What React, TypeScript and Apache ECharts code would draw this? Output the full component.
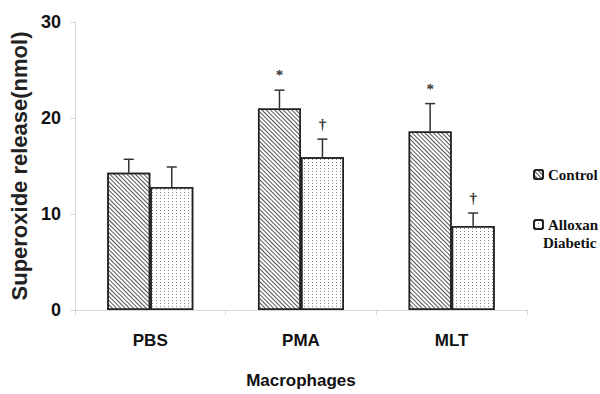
import React, { useEffect, useRef } from "react";
import * as echarts from "echarts";

const categories = ["PBS", "PMA", "MLT"];
const controlValues = [14.3, 21.0, 18.6];
const controlErrTop = [15.7, 22.9, 21.5];
const controlMarks = ["", "*", "*"];
const alloxanValues = [12.8, 15.9, 8.75];
const alloxanErrTop = [14.9, 17.8, 10.1];
const alloxanMarks = ["", "†", "†"];
const yTicks = [0, 10, 20, 30];

const BAR_W = 43;
const legendFont = "'Liberation Serif', serif";

function errorSeries(name: string, vals: number[], tops: number[], marks: string[], offset: number) {
  return {
    type: "custom",
    name: name + "-err",
    silent: true,
    z: 5,
    itemStyle: { color: "#444" },
    encode: { x: 0, y: 1 },
    data: categories.map((_, i) => [i, tops[i], vals[i]]),
    renderItem: (params: any, api: any) => {
      const i = params.dataIndex;
      const pTop = api.coord([api.value(0), api.value(1)]);
      const pBase = api.coord([api.value(0), api.value(2)]);
      const cx = pTop[0] + offset;
      const st = { stroke: "#333", lineWidth: 1.5 };
      const children: any[] = [
        { type: "line", shape: { x1: cx, y1: pBase[1], x2: cx, y2: pTop[1] }, style: st },
        { type: "line", shape: { x1: cx - 5, y1: pTop[1], x2: cx + 5, y2: pTop[1] }, style: st },
      ];
      if (marks[i]) {
        children.push({
          type: "text",
          x: cx,
          y: pTop[1] - 15,
          style: {
            text: marks[i],
            fill: "#333",
            fontFamily: legendFont,
            fontWeight: "bold",
            fontSize: 15,
            align: "center",
            verticalAlign: "middle",
          },
        });
      }
      return { type: "group", children };
    },
  };
}

export default function App() {
  const ref = useRef<HTMLDivElement>(null);
  useEffect(() => {
    if (!ref.current) return;
    const chart = echarts.init(ref.current, undefined, { renderer: "svg" });
    const axisFont = "'Liberation Sans', Arial, sans-serif";
    const legTxt = { fontFamily: legendFont, fontWeight: "bold", fontSize: 15, color: "#111" };
    chart.setOption({
      animation: false,
      backgroundColor: "#fff",
      grid: { left: 68, right: 73, top: 22, bottom: 84 },
      legend: [
        {
          data: ["Control"],
          left: 528,
          top: 162,
          itemWidth: 9,
          itemHeight: 9,
          textStyle: legTxt,
        },
        {
          data: ["Alloxan Diabetic"],
          left: 528,
          top: 212,
          itemWidth: 9,
          itemHeight: 9,
          formatter: () => "Alloxan",
          textStyle: legTxt,
        },
      ],
      graphic: [
        {
          type: "text",
          left: 543,
          top: 235,
          style: { text: "Diabetic", fill: "#111", fontFamily: legendFont, fontWeight: "bold", fontSize: 15 },
        },
      ],
      xAxis: {
        type: "category",
        data: categories,
        axisLine: { lineStyle: { color: "#d9d9d9" } },
        axisTick: { show: true, length: 5, lineStyle: { color: "#d9d9d9" } },
        axisLabel: { fontFamily: axisFont, fontWeight: "bold", fontSize: 17, color: "#111", margin: 22 },
        name: "Macrophages",
        nameLocation: "middle",
        nameGap: 62,
        nameTextStyle: { fontFamily: axisFont, fontWeight: "bold", fontSize: 17, color: "#111" },
      },
      yAxis: {
        type: "value",
        min: yTicks[0],
        max: yTicks[yTicks.length - 1],
        interval: 10,
        splitLine: { show: false },
        axisLine: { show: true, lineStyle: { color: "#d9d9d9" } },
        axisTick: { show: true, length: 5, lineStyle: { color: "#d9d9d9" } },
        axisLabel: { fontFamily: axisFont, fontWeight: "bold", fontSize: 18, color: "#111", margin: 14 },
        name: "Superoxide release(nmol)",
        nameLocation: "middle",
        nameGap: 36,
        nameTextStyle: { fontFamily: axisFont, fontWeight: "bold", fontSize: 22, color: "#222" },
      },
      series: [
        {
          type: "bar",
          name: "Control",
          data: controlValues,
          barWidth: BAR_W,
          barGap: "0%",
          itemStyle: {
            color: "#fff",
            borderColor: "#222",
            borderWidth: 1.5,
            decal: {
              symbol: "rect",
              symbolSize: 1,
              dashArrayX: [1, 0],
              dashArrayY: [1, 1.4],
              rotation: Math.PI / 4,
              color: "#555",
            },
          },
        },
        {
          type: "bar",
          name: "Alloxan Diabetic",
          data: alloxanValues,
          barWidth: BAR_W,
          barGap: "0%",
          itemStyle: {
            color: "#fff",
            borderColor: "#222",
            borderWidth: 1.5,
            decal: {
              symbol: "rect",
              symbolSize: 1,
              dashArrayX: [1, 3],
              dashArrayY: [1, 2],
              rotation: 0,
              color: "#888",
            },
          },
        },
        errorSeries("Control", controlValues, controlErrTop, controlMarks, -BAR_W / 2),
        errorSeries("Alloxan Diabetic", alloxanValues, alloxanErrTop, alloxanMarks, BAR_W / 2),
      ],
    });
    return () => chart.dispose();
  }, []);
  return <div ref={ref} style={{ width: 600, height: 394, position: "absolute", left: 0, top: 0 }} />;
}
